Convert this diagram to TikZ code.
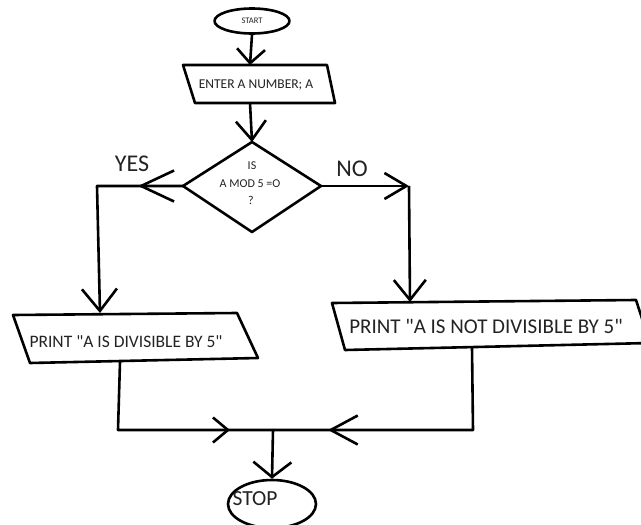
\documentclass[tikz,border=0pt]{standalone}
\usepackage{fontspec}
\setmainfont{Carlito}[Ligatures=TeXOff]
\usetikzlibrary{arrows.meta,decorations.markings,shapes.geometric}
\definecolor{ink}{RGB}{35,35,35}

\begin{document}
\begin{tikzpicture}[x=1pt,y=-1pt,line width=2.6pt,line join=round,
  barb/.style 2 args={-{Straight Barb[length=#1,width=#2]}},
  midbarb/.style n args={3}{postaction={decorate},
    decoration={markings,mark=at position #1 with {\arrow{Straight Barb[length=#2,width=#3]}}}},
  label/.style={text=ink,inner sep=0pt},
  term/.style={draw,ellipse,inner sep=0pt}]

\useasboundingbox[fill=white] (0,0) rectangle (641,525);

% terminals
\node[term,minimum width=75pt,minimum height=25pt,font=\fontsize{8.5}{8.5}\selectfont,text=ink] (start) at (252,21) {START};
\node[term,minimum width=88pt,minimum height=48pt] (stop) at (272,504) {};
\node[label,font=\fontsize{21.5}{21.5}\selectfont] (stoptxt) at (255,499) {STOP};

% input box
\coordinate (in1) at (183,65);  \coordinate (in2) at (327,65);
\coordinate (in3) at (335,103); \coordinate (in4) at (195,103);
\coordinate (intop) at (250,65); \coordinate (inbot) at (250,103);
\draw (in1) -- (in2) -- (in3) -- (in4) -- cycle;
\node[label,font=\fontsize{13.5}{13.5}\selectfont] (intxt) at (256,85) {ENTER A NUMBER; A};

% decision
\coordinate (dtop) at (252,142); \coordinate (dleft) at (183,186);
\coordinate (dright) at (321,186); \coordinate (dbot) at (252,232);
\draw (dtop) -- (dright) -- (dbot) -- (dleft) -- cycle;
\node[label,font=\fontsize{12}{12}\selectfont] (dq1) at (252,166) {IS};
\node[label,font=\fontsize{12}{12}\selectfont] (dq2) at (250,184) {A MOD 5 =O};
\node[label,font=\fontsize{12}{12}\selectfont] (dq3) at (251,200) {?};
\node[label,font=\fontsize{24}{24}\selectfont] (yes) at (132,164) {YES};
\node[label,font=\fontsize{24}{24}\selectfont] (no) at (352,169) {NO};

% output boxes
\coordinate (l1) at (13,315);  \coordinate (l2) at (237,313);
\coordinate (l3) at (258,358); \coordinate (l4) at (30,363);
\coordinate (ltop) at (100,313); \coordinate (lbot) at (120,362);
\draw (l1) -- (l2) -- (l3) -- (l4) -- cycle;
\node[label,font=\fontsize{17.5}{17.5}\selectfont] (ltxt) at (126,342) {PRINT "A IS DIVISIBLE BY 5"};

\coordinate (r1) at (332,303); \coordinate (r2) at (636,300);
\coordinate (r3) at (650,343); \coordinate (r4) at (345,350);
\coordinate (rtop) at (410,302); \coordinate (rbot) at (472,347);
\draw (r1) -- (r2) -- (r3) -- (r4) -- cycle;
\node[label,font=\fontsize{21}{21}\selectfont] (rtxt) at (486,326) {PRINT "A IS NOT DIVISIBLE BY 5"};

% connectors
\coordinate (yescorner) at (97,186);
\coordinate (nocorner) at (409,186);
\coordinate (lcorner) at (118,430);
\coordinate (rcorner) at (473,430);
\coordinate (join) at (273,430);

\draw[barb={14pt}{28pt}] (start.south) -- (intop);
\draw[barb={19pt}{30pt}] (inbot) -- (dtop);
\draw[barb={22pt}{35pt},midbarb={45pt}{33pt}{31pt}] (dleft) -- (yescorner) -- (ltop);
\draw[barb={22pt}{26pt}] (dright) -- (nocorner);
\draw[barb={20pt}{32pt}] (nocorner) -- (rtop);
\draw[midbarb={180pt}{15pt}{25pt}] (lbot) -- (lcorner) -- (join);
\draw[midbarb={228pt}{27pt}{29pt}] (rbot) -- (rcorner) -- (join);
\draw[barb={15pt}{38pt}] (join) -- (stop.north);

\end{tikzpicture}
\end{document}
